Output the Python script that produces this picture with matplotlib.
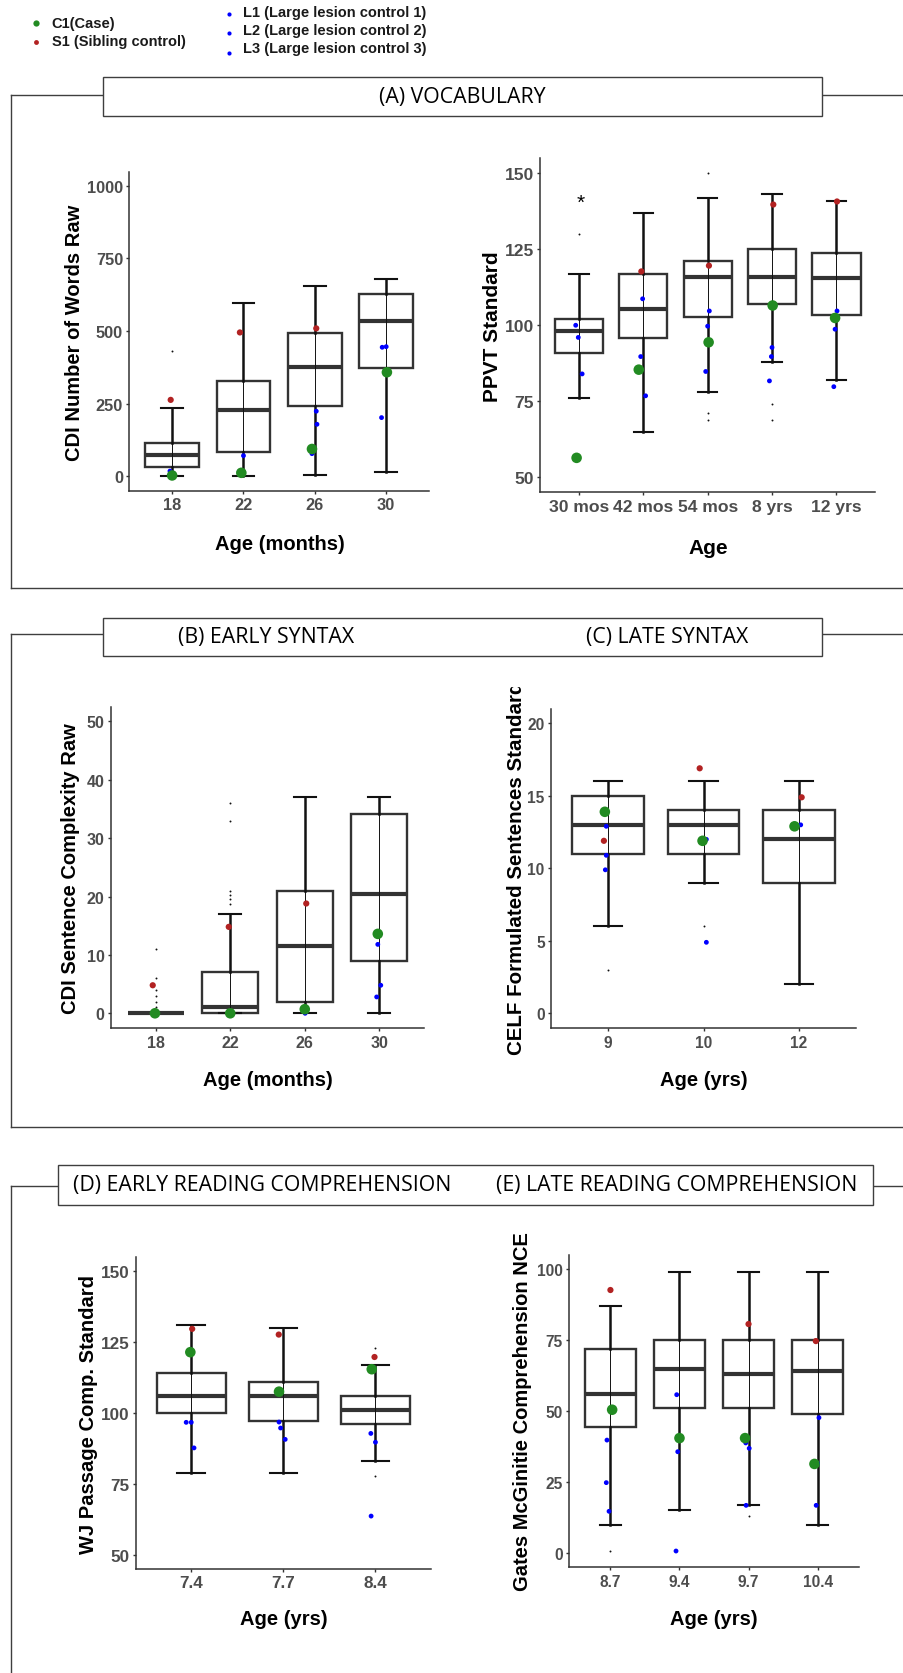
import numpy as np
import matplotlib
matplotlib.use("Agg")
import matplotlib.pyplot as plt
from matplotlib.lines import Line2D
from matplotlib.patches import Rectangle

nan = np.nan

# ---------------- DATA ----------------
# (A) CDI Number of Words Raw
cdiw_cats = ["18", "22", "26", "30"]
cdiw_lo = [0, 0, 4, 16]
cdiw_q1 = [31, 82, 241, 371]
cdiw_med = [73, 228, 376, 533]
cdiw_q3 = [113, 328, 494, 628]
cdiw_hi = [236, 598, 656, 679]
cdiw_fliers = [[432], [], [], []]
cdiw_c1 = [3, 12, 94, 358]
cdiw_s1 = [263, 495, 509, nan]
cdiw_l1 = [18, 71, 224, 444]
cdiw_l2 = [11, 16, 179, 446]
cdiw_l3 = [nan, nan, 78, 202]
cdiw_jit_c1 = [0.0, -0.03, -0.04, 0.01]
cdiw_jit_s1 = [-0.02, -0.05, 0.02, 0.0]
cdiw_jit_l1 = [-0.03, 0.0, 0.02, -0.056]
cdiw_jit_l2 = [0.014, -0.06, 0.03, 0.0]
cdiw_jit_l3 = [0.0, 0.0, -0.04, -0.065]

# (A) PPVT Standard
ppvt_cats = ["30 mos", "42 mos", "54 mos", "8 yrs", "12 yrs"]
ppvt_lo = [76, 65, 78, 88, 82]
ppvt_q1 = [91, 95.7, 102.7, 107, 103.5]
ppvt_med = [98, 105.4, 116, 116, 115.6]
ppvt_q3 = [102, 117, 121.2, 125.1, 123.8]
ppvt_hi = [117, 137, 142, 143, 141]
ppvt_fliers = [[130], [], [150, 71, 69], [74, 69], []]
ppvt_c1 = [56.4, 85.4, 94.4, 106.5, 102.4]
ppvt_s1 = [nan, 117.7, 119.6, 139.7, 140.7]
ppvt_l1 = [100, 108.7, 104.7, 92.7, 104.7]
ppvt_l2 = [96, 89.7, 99.7, 89.7, 98.7]
ppvt_l3 = [84, 76.8, 84.8, 81.7, 79.8]
ppvt_jit_c1 = [-0.036, -0.07, 0.015, 0.01, -0.02]
ppvt_jit_s1 = [0.0, -0.03, 0.02, 0.02, 0.01]
ppvt_jit_l1 = [-0.05, -0.01, 0.026, 0.0, 0.01]
ppvt_jit_l2 = [-0.01, -0.04, 0.0, -0.01, -0.02]
ppvt_jit_l3 = [0.05, 0.036, -0.03, -0.04, -0.04]
ppvt_star_value = 138.5

# (B) CDI Sentence Complexity Raw
cdis_cats = ["18", "22", "26", "30"]
cdis_lo = [0, 0, 0, 0]
cdis_q1 = [0, 0, 2, 9]
cdis_med = [0, 1, 11.5, 20.5]
cdis_q3 = [0, 7, 21, 34.2]
cdis_hi = [0, 17, 37, 37]
cdis_fliers = [[11, 6, 4, 3, 2, 1], [36, 33, 21, 20.3, 19.6, 18.8], [], []]
cdis_c1 = [0, 0, 0.7, 13.6]
cdis_s1 = [4.8, 14.8, 18.8, nan]
cdis_l1 = [nan, nan, 0.9, 11.8]
cdis_l2 = [nan, nan, 0, 4.8]
cdis_l3 = [nan, nan, nan, 2.8]
cdis_jit_c1 = [-0.01, 0.0, 0.0, -0.02]
cdis_jit_s1 = [-0.04, -0.02, 0.02, 0.0]
cdis_jit_l1 = [0.0, 0.0, -0.02, -0.02]
cdis_jit_l2 = [0.0, 0.0, 0.005, 0.02]
cdis_jit_l3 = [0.0, 0.0, 0.0, -0.035]

# (C) CELF Formulated Sentences Standard
celf_cats = ["9", "10", "12"]
celf_lo = [6, 9, 2]
celf_q1 = [11, 11, 9]
celf_med = [13, 13, 12]
celf_q3 = [15, 14, 14]
celf_hi = [16, 16, 16]
celf_fliers = [[3], [6], []]
celf_c1 = [13.9, 11.9, 12.9]
celf_s1 = [11.9, 16.9, 14.9]
celf_l1 = [12.9, 12.0, 13.0]
celf_l2 = [10.9, 4.9, nan]
celf_l3 = [9.9, nan, nan]
celf_jit_c1 = [-0.035, -0.01, -0.045]
celf_jit_s1 = [-0.045, -0.04, 0.03]
celf_jit_l1 = [-0.02, 0.03, 0.02]
celf_jit_l2 = [-0.02, 0.03, 0.0]
celf_jit_l3 = [-0.03, 0.0, 0.0]

# (D) WJ Passage Comp. Standard
wj_cats = ["7.4", "7.7", "8.4"]
wj_lo = [79, 79, 83]
wj_q1 = [100, 97, 96.1]
wj_med = [106.1, 106.1, 101]
wj_q3 = [114, 110.9, 106.1]
wj_hi = [131, 130, 116.9]
wj_fliers = [[], [], [122.9, 77.8]]
wj_c1 = [121.4, 107.5, 115.4]
wj_s1 = [129.6, 127.6, 119.7]
wj_l1 = [96.7, 96.8, 92.8]
wj_l2 = [96.7, 94.7, 89.7]
wj_l3 = [87.7, 90.7, 63.7]
wj_jit_c1 = [-0.01, -0.047, -0.04]
wj_jit_s1 = [0.01, -0.05, -0.01]
wj_jit_l1 = [-0.055, -0.047, -0.05]
wj_jit_l2 = [0.0, -0.03, 0.0]
wj_jit_l3 = [0.03, 0.02, -0.047]

# (E) Gates McGinitie Comprehension NCE
gm_cats = ["8.7", "9.4", "9.7", "10.4"]
gm_lo = [10, 15, 17, 10]
gm_q1 = [44.4, 51, 51, 49]
gm_med = [56, 65, 63, 64]
gm_q3 = [72, 75, 75, 75]
gm_hi = [87, 99, 99, 99]
gm_fliers = [[0.8], [], [12.9], []]
gm_c1 = [50.5, 40.5, 40.5, 31.4]
gm_s1 = [92.7, nan, 80.7, 74.7]
gm_l1 = [39.8, 55.8, 38.8, 47.7]
gm_l2 = [24.8, 35.7, 36.9, 31.6]
gm_l3 = [14.7, 0.7, 16.8, 16.8]
gm_jit_c1 = [0.025, 0.0, -0.05, -0.045]
gm_jit_s1 = [0.0, 0.0, 0.0, -0.025]
gm_jit_l1 = [-0.05, -0.04, -0.04, 0.02]
gm_jit_l2 = [-0.06, -0.025, 0.01, 0.0]
gm_jit_l3 = [-0.02, -0.05, -0.035, -0.02]

legend_labels = ["C1(Case)", "S1 (Sibling control)",
                 "L1 (Large lesion control 1)", "L2 (Large lesion control 2)",
                 "L3 (Large lesion control 3)"]
panel_titles = ["(A) VOCABULARY", "(B) EARLY SYNTAX", "(C) LATE SYNTAX",
                "(D) EARLY READING COMPREHENSION", "(E) LATE READING COMPREHENSION"]

# ---------------- STYLE ----------------
W, H = 904, 1674
GREEN = "#228B22"
RED = "#B22222"
BLUE = "#0000FF"
BOXC = "#333333"
TICKC = "#4D4D4D"
FRAMEC = "#3f3f3f"
SANS = ["Liberation Sans", "DejaVu Sans"]
TITLEF = ["Open Sans", "DejaVu Sans"]

fig = plt.figure(figsize=(W / 100, H / 100), dpi=100)
fig.patch.set_facecolor("white")


def fx(x):
    return x / W


def fy(y):
    return 1 - y / H


def add_ax(l, t, r, b):
    return fig.add_axes([fx(l), fy(b), (r - l) / W, (b - t) / H])


def panel(ax, cats, lo, q1, med, q3, hi, fliers, series, ylim, yticks, tick_fs):
    n = len(cats)
    pos = np.arange(1, n + 1)
    stats = []
    for i in range(n):
        stats.append(dict(med=med[i], q1=q1[i], q3=q3[i], whislo=lo[i],
                          whishi=hi[i], fliers=np.array(fliers[i], dtype=float)))
    ax.bxp(stats, positions=pos, widths=0.75, capwidths=0.3, patch_artist=True,
           boxprops=dict(facecolor="white", edgecolor=BOXC, linewidth=1.7),
           whiskerprops=dict(color="#111111", linewidth=1.8),
           capprops=dict(color="#111111", linewidth=1.5),
           medianprops=dict(color=BOXC, linewidth=3.0, solid_capstyle="butt"),
           flierprops=dict(marker="o", markersize=1.4, markerfacecolor="#111111",
                           markeredgecolor="none", linestyle="none"),
           zorder=2)
    ax.vlines(pos, q1, q3, color="#111111", linewidth=0.7, zorder=2.5)
    for vals, jit, col, size in series:
        ax.scatter(pos + np.array(jit), vals, s=size, color=col, edgecolors="none",
                   zorder=5)
    ax.set_xlim(0.4, n + 0.6)
    ax.set_ylim(*ylim)
    ax.set_yticks(yticks)
    ax.set_xticks(pos)
    ax.set_xticklabels(cats)
    for s in ["top", "right"]:
        ax.spines[s].set_visible(False)
    for s in ["left", "bottom"]:
        ax.spines[s].set_color(BOXC)
        ax.spines[s].set_linewidth(1.1)
    ax.tick_params(axis="both", length=2.5, width=1.0, color=BOXC, pad=2,
                   labelsize=tick_fs, labelcolor=TICKC)
    for lab in ax.get_xticklabels() + ax.get_yticklabels():
        lab.set_fontweight("bold")
        lab.set_family(SANS)
    ax.patch.set_alpha(0)


def series_list(c1, s1, l1, l2, l3, jc1, js1, jl1, jl2, jl3):
    return [(l1, jl1, BLUE, 12), (l2, jl2, BLUE, 12), (l3, jl3, BLUE, 12),
            (s1, js1, RED, 20), (c1, jc1, GREEN, 58)]


def label(x, y, text, rot=0, fs=14.5):
    return fig.text(fx(x), fy(y), text, rotation=rot, ha="center", va="center",
                    fontsize=fs, fontweight="bold", family=SANS, color="black")


# ---------------- PANELS ----------------
ax1 = add_ax(129.3, 173, 429, 491.7)
panel(ax1, cdiw_cats, cdiw_lo, cdiw_q1, cdiw_med, cdiw_q3, cdiw_hi, cdiw_fliers,
      series_list(cdiw_c1, cdiw_s1, cdiw_l1, cdiw_l2, cdiw_l3, cdiw_jit_c1,
                  cdiw_jit_s1, cdiw_jit_l1, cdiw_jit_l2, cdiw_jit_l3),
      (-49.5, 1047), [0, 250, 500, 750, 1000], 11.8)
label(75, 332.5, "CDI Number of Words Raw", rot=90)
label(280, 545, "Age (months)")

ax2 = add_ax(540.3, 159.3, 875, 493.3)
panel(ax2, ppvt_cats, ppvt_lo, ppvt_q1, ppvt_med, ppvt_q3, ppvt_hi, ppvt_fliers,
      series_list(ppvt_c1, ppvt_s1, ppvt_l1, ppvt_l2, ppvt_l3, ppvt_jit_c1,
                  ppvt_jit_s1, ppvt_jit_l1, ppvt_jit_l2, ppvt_jit_l3),
      (45.07, 154.9), [50, 75, 100, 125, 150], 12.6)
ax2.text(1.02, ppvt_star_value, "*", ha="center", va="baseline", fontsize=15,
         color="black", family=SANS)
label(492.3, 326.7, "PPVT Standard", rot=90, fs=15)
label(708.3, 548, "Age", fs=15)

ax3 = add_ax(111, 708.3, 424, 1029.3)
panel(ax3, cdis_cats, cdis_lo, cdis_q1, cdis_med, cdis_q3, cdis_hi, cdis_fliers,
      series_list(cdis_c1, cdis_s1, cdis_l1, cdis_l2, cdis_l3, cdis_jit_c1,
                  cdis_jit_s1, cdis_jit_l1, cdis_jit_l2, cdis_jit_l3),
      (-2.57, 52.4), [0, 10, 20, 30, 40, 50], 11.5)
label(70.5, 868.3, "CDI Sentence Complexity Raw", rot=90)
label(267.5, 1081, "Age (months)")

ax4 = add_ax(551, 710, 856, 1029.3)
panel(ax4, celf_cats, celf_lo, celf_q1, celf_med, celf_q3, celf_hi, celf_fliers,
      series_list(celf_c1, celf_s1, celf_l1, celf_l2, celf_l3, celf_jit_c1,
                  celf_jit_s1, celf_jit_l1, celf_jit_l2, celf_jit_l3),
      (-1.03, 20.99), [0, 5, 10, 15, 20], 11.2)
label(516.7, 868, "CELF Formulated Sentences Standard", rot=90, fs=14.8)
# the source sub-image was cropped just above the label's end
fig.add_artist(Rectangle((fx(500), fy(688)), 40 / W, 28 / H, facecolor="white",
                         edgecolor="none", transform=fig.transFigure, zorder=3.5))
label(703.8, 1081, "Age (yrs)")

ax5 = add_ax(136, 1258.3, 430.7, 1570)
panel(ax5, wj_cats, wj_lo, wj_q1, wj_med, wj_q3, wj_hi, wj_fliers,
      series_list(wj_c1, wj_s1, wj_l1, wj_l2, wj_l3, wj_jit_c1,
                  wj_jit_s1, wj_jit_l1, wj_jit_l2, wj_jit_l3),
      (45.07, 154.8), [50, 75, 100, 125, 150], 12.3)
label(88.7, 1415, "WJ Passage Comp. Standard", rot=90)
label(283.8, 1620, "Age (yrs)")

ax6 = add_ax(569, 1256, 859, 1568.3)
panel(ax6, gm_cats, gm_lo, gm_q1, gm_med, gm_q3, gm_hi, gm_fliers,
      series_list(gm_c1, gm_s1, gm_l1, gm_l2, gm_l3, gm_jit_c1,
                  gm_jit_s1, gm_jit_l1, gm_jit_l2, gm_jit_l3),
      (-5.04, 105.04), [0, 25, 50, 75, 100], 11.2)
label(522.5, 1411.7, "Gates McGinitie Comprehension NCE", rot=90)
label(714.2, 1620, "Age (yrs)")

# ---------------- FRAMES & TITLES ----------------
def fline(xs, ys):
    fig.add_artist(Line2D([fx(x) for x in xs], [fy(y) for y in ys],
                          color=FRAMEC, linewidth=1.0, transform=fig.transFigure))


def tbox(l, t, r, b):
    fig.add_artist(Rectangle((fx(l), fy(b)), (r - l) / W, (b - t) / H,
                             facecolor="white", edgecolor=FRAMEC, linewidth=1.0,
                             transform=fig.transFigure, zorder=3))


# Frame A
fline([10.7, 10.7], [589, 95.7])
fline([10.7, 103], [95.7, 95.7])
fline([821.7, 904], [95.7, 95.7])
fline([10.7, 904], [589, 589])
tbox(103, 77.7, 821.7, 116.7)
fig.text(fx(462), fy(97.2), panel_titles[0], ha="center", va="center",
         fontsize=15.3, family=TITLEF, color="black", zorder=4)

# Frame B/C
fline([10.7, 10.7], [1128.3, 635])
fline([10.7, 103.5], [635, 635])
fline([822, 904], [635, 635])
fline([10.7, 904], [1128.3, 1128.3])
tbox(103.5, 619, 822, 657.3)
fig.text(fx(266), fy(638), panel_titles[1], ha="center", va="center",
         fontsize=15.3, family=TITLEF, color="black", zorder=4)
fig.text(fx(667), fy(638), panel_titles[2], ha="center", va="center",
         fontsize=15.3, family=TITLEF, color="black", zorder=4)

# Frame D/E
fline([11, 11], [1674, 1186.7])
fline([11, 57.7], [1186.7, 1186.7])
fline([873, 904], [1186.7, 1186.7])
tbox(57.7, 1165.7, 873, 1206)
fig.text(fx(262), fy(1186), panel_titles[3], ha="center", va="center",
         fontsize=15.3, family=TITLEF, color="black", zorder=4)
fig.text(fx(677), fy(1186), panel_titles[4], ha="center", va="center",
         fontsize=15.3, family=TITLEF, color="black", zorder=4)

# ---------------- LEGEND ----------------
leg_items = [
    (36, 24, 51.7, 24, GREEN, 4.5, legend_labels[0]),
    (36, 42.7, 51.7, 41.7, RED, 3.5, legend_labels[1]),
    (229, 15, 243.3, 13.3, BLUE, 3.0, legend_labels[2]),
    (229, 34.3, 243.3, 31, BLUE, 3.0, legend_labels[3]),
    (229, 54, 243.3, 49.3, BLUE, 3.0, legend_labels[4]),
]
for mx, my, tx, ty, col, ms, txt in leg_items:
    fig.add_artist(Line2D([fx(mx)], [fy(my)], marker="o", linestyle="none",
                          markersize=ms, markerfacecolor=col, markeredgecolor="none",
                          transform=fig.transFigure))
    fig.text(fx(tx), fy(ty), txt, ha="left", va="center", fontsize=10.5,
             fontweight="bold", family=SANS, color="#1a1a1a")

fig.savefig("out.png", dpi=100, facecolor="white")
